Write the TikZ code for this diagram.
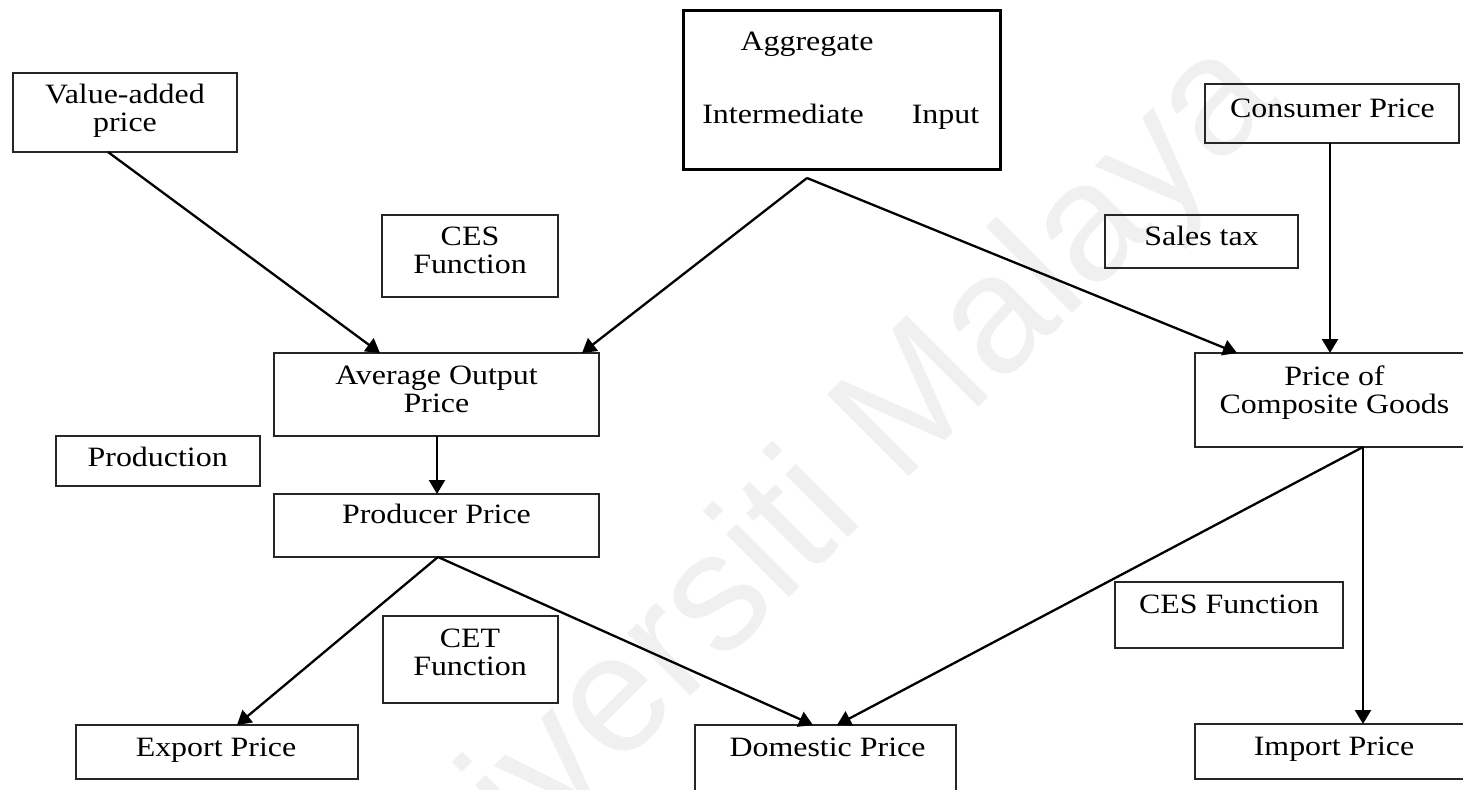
\documentclass[tikz,border=0pt]{standalone}
\usepackage{fontspec}
\setmainfont{Liberation Serif}[FakeStretch=1.14]
\newfontfamily\wmfont{Liberation Sans}
\usetikzlibrary{arrows.meta,fit}

\tikzset{
  box/.style={draw=black!85, line width=0.75pt, inner sep=0pt, outer sep=0pt},
  heavybox/.style={draw=black, line width=1.5pt, inner sep=0pt, outer sep=0pt},
  txt/.style={inner sep=0pt, anchor=base, align=center,
              font=\fontsize{14pt}{14pt}\selectfont},
  arr/.style={line width=1.15pt, -{Triangle[length=7pt, width=8pt]}},
  wm/.style={text=black!6, font=\wmfont\fontsize{84pt}{84pt}\selectfont, inner sep=0pt}
}

\begin{document}
\begin{tikzpicture}[x=0.5pt, y=-0.5pt]
\useasboundingbox (0,0) rectangle (1463,789);
\clip (0,0) rectangle (1463,789);
\fill[white] (0,0) rectangle (1463,789);

% faint background lettering
\node[wm, rotate=45] (wmark) at (800,525) {Universiti Malaya};

% boxes
\node[box, fit={(13,73) (237,152)}] (va) {};
\node[heavybox, fit={(683,10) (1000,169)}] (agg) {};
\node[box, fit={(1205,84) (1459,143)}] (cons) {};
\node[box, fit={(382,215) (558,297)}] (cesA) {};
\node[box, fit={(1105,215) (1298,268)}] (sales) {};
\node[box, fit={(274,353) (599,436)}] (avg) {};
\node[box, fit={(274,494) (599,557)}] (prod) {};
\node[box, fit={(56,436) (260,486)}] (prodn) {};
\node[box, fit={(1195,353) (1473,447)}] (comp) {};
\node[box, fit={(1115,582) (1343,648)}] (cesB) {};
\node[box, fit={(383,616) (558,703)}] (cet) {};
\node[box, fit={(76,725) (358,779)}] (exp) {};
\node[box, fit={(695,725) (956,800)}] (dom) {};
\node[box, fit={(1195,724) (1473,779)}] (imp) {};

% labels (multi-line labels sit on the baseline of their last line)
\node[txt] (vaT) at (125,131.7) {Value-added\\price};
\node[txt] (aggT1) at (807,50) {Aggregate};
\node[txt] (aggT2) at (783,123) {Intermediate};
\node[txt] (aggT3) at (945.5,123) {Input};
\node[txt] (consT) at (1332.5,117.7) {Consumer Price};
\node[txt] (cesAT) at (470,273.3) {CES\\Function};
\node[txt] (salesT) at (1201.5,245) {Sales tax};
\node[txt] (avgT) at (436.5,412.7) {Average Output\\Price};
\node[txt] (prodT) at (436.5,523.3) {Producer Price};
\node[txt] (prodnT) at (157.7,466.7) {Production};
\node[txt] (compT) at (1334.5,413.3) {Price of\\Composite Goods};
\node[txt] (cesBT) at (1229,613.3) {CES Function};
\node[txt] (cetT) at (470,675) {CET\\Function};
\node[txt] (expT) at (216,756.7) {Export Price};
\node[txt] (domT) at (827.5,756.7) {Domestic Price};
\node[txt] (impT) at (1334,755) {Import Price};

% connectors
\draw[arr] ([xshift=47.5pt]va.south west) -- ([xshift=53pt]avg.north west);
\draw[arr] ([xshift=62pt, yshift=-4.5pt]agg.south west) -- ([xshift=154pt]avg.north west);
\draw[arr] ([xshift=62pt, yshift=-4.5pt]agg.south west) -- ([xshift=21pt]comp.north west);
\draw[arr] ([xshift=62.5pt]cons.south west) -- ([xshift=67.5pt]comp.north west);
\draw[arr] ([xshift=81.5pt]avg.south west) -- ([xshift=81.5pt]prod.north west);
\draw[arr] ([xshift=82pt]prod.south west) -- ([xshift=80.5pt]exp.north west);
\draw[arr] ([xshift=82pt]prod.south west) -- ([xshift=59pt]dom.north west);
\draw[arr] ([xshift=84pt]comp.south west) -- ([xshift=71pt]dom.north west);
\draw[arr] ([xshift=84pt]comp.south west) -- ([xshift=84pt]imp.north west);
\end{tikzpicture}
\end{document}
